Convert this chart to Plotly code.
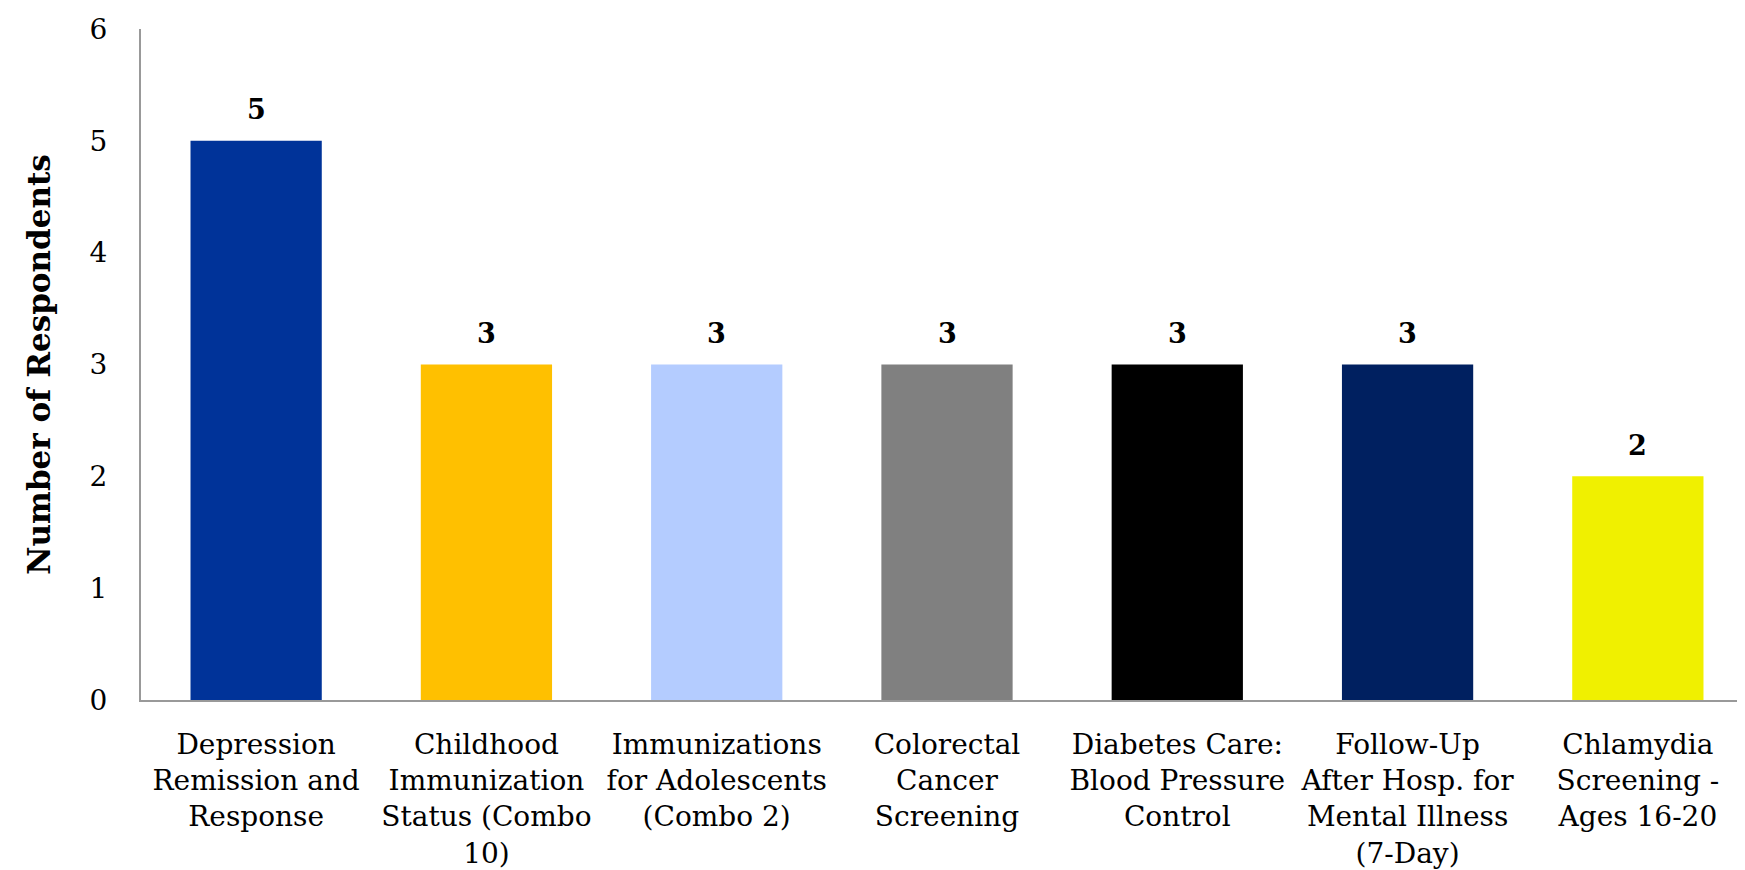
import plotly.graph_objects as go

categories = [
    "Depression<br>Remission and<br>Response",
    "Childhood<br>Immunization<br>Status (Combo<br>10)",
    "Immunizations<br>for Adolescents<br>(Combo 2)",
    "Colorectal<br>Cancer<br>Screening",
    "Diabetes Care:<br>Blood Pressure<br>Control",
    "Follow-Up<br>After Hosp. for<br>Mental Illness<br>(7-Day)",
    "Chlamydia<br>Screening -<br>Ages 16-20",
]
values = [5, 3, 3, 3, 3, 3, 2]
colors = ["#003399", "#FFC000", "#B4CCFF", "#808080", "#000000", "#002060", "#F0F000"]

FONT = "Palatino Linotype, Book Antiqua, Palatino, DejaVu Serif, serif"

fig = go.Figure(go.Bar(
    x=categories, y=values, marker_color=colors, marker_line_width=0,
    width=0.57,
))

for c, v in zip(categories, values):
    fig.add_annotation(x=c, y=v, text=f"<b>{v}</b>", showarrow=False,
                       yshift=31, font=dict(family=FONT, size=27, color="black"))

fig.update_layout(
    width=1745, height=870,
    margin=dict(l=133, r=0, t=21, b=178),
    plot_bgcolor="white", paper_bgcolor="white",
    font=dict(family=FONT, size=28, color="black"),
    showlegend=False,
    bargap=0.43,
)
fig.update_xaxes(
    range=[-0.5, 6.5], showline=True, linecolor="#999999", linewidth=2,
    ticks="", tickfont=dict(size=28), ticklabelstandoff=18, tickangle=0,
)
fig.update_yaxes(
    range=[0, 6], dtick=1, showgrid=False, zeroline=False,
    showline=True, linecolor="#999999", linewidth=2, ticks="",
    tickfont=dict(size=28), ticklabelstandoff=26,
    title=dict(text="<b>Number of Respondents</b>", font=dict(size=31), standoff=30),
)

fig.write_html("out.html")
